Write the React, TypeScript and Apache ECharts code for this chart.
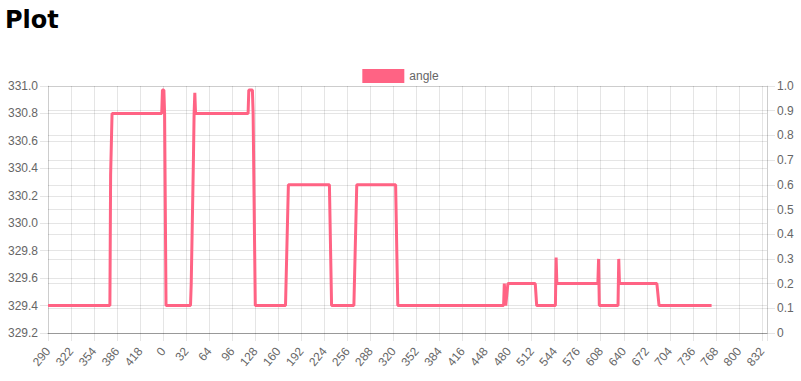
import React, { useEffect, useRef } from "react";
import * as echarts from "echarts";

const seriesName = "angle";
const xTickLabels = ["290", "322", "354", "386", "418", "0", "32", "64", "96", "128", "160", "192", "224", "256", "288", "320", "352", "384", "416", "448", "480", "512", "544", "576", "608", "640", "672", "704", "736", "768", "800", "832"];
const lastCategoryIndex = 999;
const pointIndex = [0, 86, 87, 89, 158, 159, 161, 162, 164, 198, 199, 202, 203, 204, 205, 278, 279, 284, 285, 288, 330, 334, 391, 394, 425, 429, 483, 486, 633, 634, 636, 639, 677, 679, 705, 706, 707, 764, 765, 766, 792, 793, 794, 846, 849, 922];
const angleValues = [329.4, 329.4, 330.35, 330.8, 330.8, 330.97, 330.97, 330.8, 329.4, 329.4, 329.56, 330.45, 330.8, 330.95, 330.8, 330.8, 330.97, 330.97, 330.8, 329.4, 329.4, 330.28, 330.28, 329.4, 329.4, 330.28, 330.28, 329.4, 329.4, 329.56, 329.4, 329.56, 329.56, 329.4, 329.4, 329.75, 329.56, 329.56, 329.74, 329.4, 329.4, 329.74, 329.56, 329.56, 329.4, 329.4];

const PINK = "rgb(255,99,132)";
const GRID = "rgba(0,0,0,0.1)";
const LABEL = { color: "#666", fontSize: 12, fontFamily: "Liberation Sans, Arial, sans-serif" };

export default function App() {
  const ref = useRef<HTMLDivElement>(null);
  useEffect(() => {
    if (!ref.current) return;
    const chart = echarts.init(ref.current, null, { renderer: "svg" });
    const data = pointIndex.map((x, i) => [x, angleValues[i]]);
    chart.setOption({
      animation: false,
      title: {
        text: "Plot",
        left: 5,
        top: 8,
        padding: 0,
        textStyle: { fontFamily: "DejaVu Sans", fontWeight: "bold", fontSize: 24, color: "#000" },
      },
      legend: {
        top: 64,
        left: "center",
        itemWidth: 42,
        itemHeight: 14,
        icon: "rect",
        textStyle: LABEL,
        data: [{ name: seriesName, itemStyle: { color: PINK } }],
      },
      grid: { left: 48, right: 34, top: 86, bottom: 48 },
      xAxis: {
        type: "value",
        min: 0,
        max: lastCategoryIndex,
        interval: 32,
        axisLine: { show: true, lineStyle: { color: "rgba(0,0,0,0.25)" } },
        axisTick: { show: true, length: 8, lineStyle: { color: GRID } },
        splitLine: { show: true, lineStyle: { color: GRID } },
        axisLabel: {
          ...LABEL,
          rotate: 50,
          margin: 16,
          showMinLabel: true,
          showMaxLabel: true,
          formatter: (v: number) => {
            const k = v / 32;
            return Number.isInteger(k) && k < xTickLabels.length ? xTickLabels[k] : "";
          },
        },
      },
      yAxis: [
        {
          type: "value",
          position: "left",
          min: 329.2,
          max: 331,
          interval: 0.2,
          axisLine: { show: true, lineStyle: { color: GRID } },
          axisTick: { show: true, length: 8, lineStyle: { color: GRID } },
          splitLine: { show: true, lineStyle: { color: GRID } },
          axisLabel: { ...LABEL, margin: 10, formatter: (v: number) => v.toFixed(1) },
        },
        {
          type: "value",
          position: "right",
          min: 0,
          max: 1,
          interval: 0.1,
          axisLine: { show: true, lineStyle: { color: GRID } },
          axisTick: { show: true, length: 8, lineStyle: { color: GRID } },
          splitLine: { show: true, lineStyle: { color: GRID } },
          axisLabel: { ...LABEL, margin: 10, formatter: (v: number) => (v === 0 ? "0" : v.toFixed(1)) },
        },
      ],
      series: [
        {
          name: seriesName,
          type: "line",
          yAxisIndex: 0,
          data,
          symbol: "none",
          showSymbol: false,
          lineStyle: { color: PINK, width: 3 },
          itemStyle: { color: PINK },
        },
      ],
    });
    return () => chart.dispose();
  }, []);
  return <div ref={ref} style={{ position: "absolute", left: 0, top: 0, width: 801, height: 381 }} />;
}
